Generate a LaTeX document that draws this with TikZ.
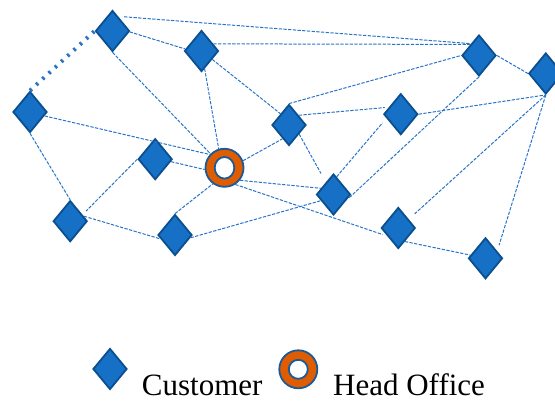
\documentclass[tikz,border=0pt]{standalone}
\usepackage{fontspec}
\setmainfont{Liberation Serif}
\usetikzlibrary{shapes.geometric}
\definecolor{custfill}{HTML}{1570C6}
\definecolor{custline}{HTML}{0B4F8E}
\definecolor{hofill}{HTML}{E05C00}
\definecolor{holine}{HTML}{1A5A9A}
\definecolor{linkc}{HTML}{2A74C8}
\tikzset{
  cust/.style={shape=diamond, fill=custfill, draw=custline, line width=1.8pt,
    minimum width=34pt, minimum height=41pt, inner sep=0pt},
  office/.style={shape=circle, fill=hofill, draw=holine, line width=1.8pt,
    minimum size=38pt, inner sep=0pt},
  hole/.style={fill=white, draw=holine, line width=1.8pt},
  link/.style={draw=linkc, line width=1pt, dash pattern=on 3.3pt off 1.4pt},
  dotlink/.style={draw=linkc, line width=4pt, dash pattern=on 2.4pt off 6.1pt},
  legendtext/.style={anchor=base west, inner sep=0pt, font=\fontsize{31}{36}\selectfont}
}
\begin{document}
\begin{tikzpicture}[x=1pt,y=-1pt]
\useasboundingbox (0,0) rectangle (555,403);
% customers
\node[cust] (A) at (112.5,31) {};
\node[cust] (B) at (201.5,51) {};
\node[cust] (C) at (30,112) {};
\node[cust] (D) at (479,55.5) {};
\node[cust] (E) at (545.8,73.5) {};
\node[cust] (F) at (289,125) {};
\node[cust] (G) at (400.8,114.2) {};
\node[cust] (H) at (155.2,159.2) {};
\node[cust] (I) at (70.2,221.2) {};
\node[cust] (J) at (175,235) {};
\node[cust] (K) at (333.5,194.5) {};
\node[cust] (L) at (398.3,228) {};
\node[cust] (M) at (485.5,258.3) {};
% head office
\node[office] (O) at (224.5,167.8) {};
\draw[hole] (O.center) ellipse [x radius=9.8pt, y radius=10.8pt];
% links
\draw[link, shorten <=6pt] (A.69) -- (D.124);
\draw[link] (B.31) -- (D.128);
\draw[link] (A.-3) -- (B.173);
\draw[dotlink] (C.north) -- (A.west);
\draw[link] (A.south) -- (O.135);
\draw[link] (B.-80) -- (O.107);
\draw[link] (B.-38) -- (F.127);
\draw[link] (C.-15) -- (O.138);
\draw[link] (C.south) -- (I.north);
\draw[link, shorten >=5pt] (H.west) -- (I.28);
\draw[link] (H.-9) -- (O.185);
\draw[link] (I.20) -- (J.195);
\draw[link] (J.north) -- (O.-126);
\draw[link] (J.-10) -- (K.206);
\draw[link] (O.-39) -- (K.154);
\draw[link, shorten >=5pt] (O.-57) -- (L.216);
\draw[link] (O.21) -- (F.245);
\draw[link, shorten >=10pt] (F.-42) -- (K.122);
\draw[link, shorten >=6pt] (K.80) -- (G.196);
\draw[link] (F.north) -- (D.west);
\draw[link, shorten >=4pt] (F.45) -- (G.150);
\draw[link] (G.east) -- (E.south);
\draw[link] (D.east) -- (E.west);
\draw[link, shorten >=3pt] (D.south) -- (K.-22);
\draw[link, shorten >=8pt] (E.south) -- (L.40);
\draw[link, shorten >=6pt] (E.south) -- (M.32);
\draw[link] (L.-64) -- (M.168);
% legend
\node[cust] (LC) at (110,369) {};
\node[legendtext] (LCt) at (141.7,395.7) {Customer};
\node[office] (LO) at (298.3,369.3) {};
\draw[hole] (LO.center) ellipse [x radius=9.5pt, y radius=9.5pt];
\node[legendtext] (LOt) at (333,395.7) {Head Office};
\end{tikzpicture}
\end{document}
